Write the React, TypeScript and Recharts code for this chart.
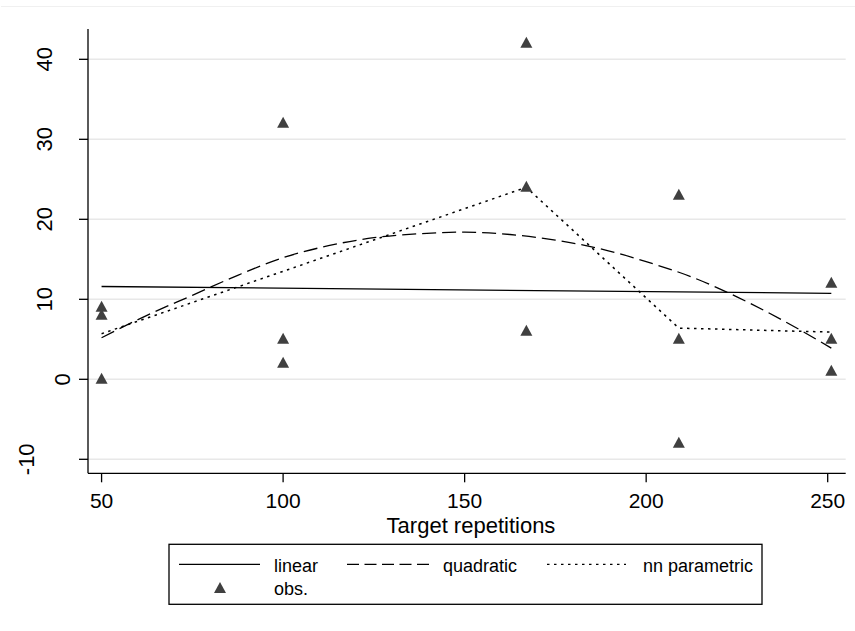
import {
  ComposedChart,
  Line,
  Scatter,
  XAxis,
  YAxis,
  CartesianGrid,
} from 'recharts';

const FONT = '"Liberation Sans", Arial, Helvetica, sans-serif';

// observations
const obsX = [50, 50, 50, 100, 100, 100, 167, 167, 167, 209, 209, 209, 251, 251, 251];
const obsY = [9, 8, 0, 32, 5, 2, 42, 24, 6, 23, 5, -8, 12, 5, 1];

// linear fit
const linearX = [50, 251];
const linearY = [11.6, 10.75];

// quadratic fit
const quadX = [50, 62.5, 75, 87.5, 100, 112.5, 125, 137.5, 150, 162.5, 175, 187.5, 200, 212.5, 225, 237.5, 251];
const quadY = [5.2, 8.0, 10.5, 13.0, 15.2, 16.7, 17.7, 18.2, 18.4, 18.1, 17.4, 16.3, 14.7, 12.8, 10.3, 7.4, 3.9];

// nonparametric fit
const nnX = [50, 100, 167, 209, 251];
const nnY = [5.7, 13.5, 24, 6.4, 5.9];

const xTicks = [50, 100, 150, 200, 250];
const yTicks = [-10, 0, 10, 20, 30, 40];

const zip = (xs: number[], ys: number[]) => xs.map((x, i) => ({ x, y: ys[i] }));

const obsData = zip(obsX, obsY);
const linearData = zip(linearX, linearY);
const quadData = zip(quadX, quadY);
const nnData = zip(nnX, nnY);

const Triangle = (props: any) => {
  const { cx, cy } = props;
  if (cx == null || cy == null) return null;
  return (
    <polygon
      points={`${cx},${cy - 6.5} ${cx - 6},${cy + 4.5} ${cx + 6},${cy + 4.5}`}
      fill="#404040"
    />
  );
};

const XTick = (props: any) => {
  const { x, y, payload } = props;
  return (
    <text x={x} y={y + 24} textAnchor="middle" fontSize={21} fontFamily={FONT} fill="#000">
      {payload.value}
    </text>
  );
};

// Stata shifts rotated labels left by their unrotated length
const YTick = (props: any) => {
  const { y, payload } = props;
  const label = String(payload.value);
  const bx = 70 - 18 * (label.length - 1);
  return (
    <text
      transform={`translate(${bx}, ${y}) rotate(-90)`}
      textAnchor="middle"
      fontSize={22}
      fontFamily={FONT}
      fill="#000"
    >
      {label}
    </text>
  );
};

export default function App() {
  return (
    <div style={{ position: 'absolute', left: 0, top: 0, width: 855, height: 631, background: '#fff' }}>
      <div style={{ position: 'absolute', left: 1, top: 6, width: 854, height: 1, background: '#f0f0f0' }} />
      <ComposedChart
        width={855}
        height={631}
        margin={{ top: 29, right: 9.3, bottom: 97.7, left: 0 }}
      >
        <CartesianGrid
          horizontal
          vertical={false}
          horizontalValues={yTicks}
          stroke="#e8e8e8"
          strokeWidth={1.5}
        />
        <XAxis
          type="number"
          dataKey="x"
          domain={[46.26, 254.96]}
          ticks={xTicks}
          allowDataOverflow
          height={60}
          axisLine={{ stroke: '#000', strokeWidth: 1.3 }}
          tickLine={{ stroke: '#000', strokeWidth: 1.3 }}
          tickSize={9}
          tick={<XTick />}
          label={() => (
            <text x={471} y={533} textAnchor="middle" fontSize={22} fontFamily={FONT} fill="#000">
              Target repetitions
            </text>
          )}
        />
        <YAxis
          type="number"
          dataKey="y"
          domain={[-11.75, 43.79]}
          ticks={yTicks}
          allowDataOverflow
          width={88}
          axisLine={{ stroke: '#000', strokeWidth: 1.3 }}
          tickLine={{ stroke: '#000', strokeWidth: 1.3 }}
          tickSize={9}
          tick={<YTick />}
        />
        <Line
          data={linearData}
          dataKey="y"
          type="linear"
          stroke="#000"
          strokeWidth={1.3}
          dot={false}
          activeDot={false}
          isAnimationActive={false}
        />
        <Line
          data={quadData}
          dataKey="y"
          type="monotone"
          stroke="#000"
          strokeWidth={1.3}
          strokeDasharray="14 6"
          dot={false}
          activeDot={false}
          isAnimationActive={false}
        />
        <Line
          data={nnData}
          dataKey="y"
          type="linear"
          stroke="#000"
          strokeWidth={1.5}
          strokeDasharray="2.5 4.5"
          dot={false}
          activeDot={false}
          isAnimationActive={false}
        />
        <Scatter data={obsData} dataKey="y" shape={<Triangle />} isAnimationActive={false} />
      </ComposedChart>

      <svg
        width={855}
        height={631}
        style={{ position: 'absolute', left: 0, top: 0, pointerEvents: 'none' }}
        fontFamily={FONT}
      >
        <rect x={169} y={544.3} width={593} height={60} fill="none" stroke="#000" strokeWidth={1.3} />
        <line x1={179} x2={260} y1={564.3} y2={564.3} stroke="#000" strokeWidth={1.3} />
        <text x={274} y={571.7} fontSize={18} fill="#000">linear</text>
        <line x1={347} x2={430} y1={564.3} y2={564.3} stroke="#000" strokeWidth={1.3} strokeDasharray="12 5.5" />
        <text x={443} y={571.7} fontSize={18} fill="#000">quadratic</text>
        <line x1={547} x2={626} y1={564.3} y2={564.3} stroke="#000" strokeWidth={1.3} strokeDasharray="2.5 4.5" />
        <text x={643} y={571.7} fontSize={18} fill="#000">nn parametric</text>
        <Triangle cx={220} cy={588.5} />
        <text x={274} y={595} fontSize={18} fill="#000">obs.</text>
      </svg>
    </div>
  );
}
